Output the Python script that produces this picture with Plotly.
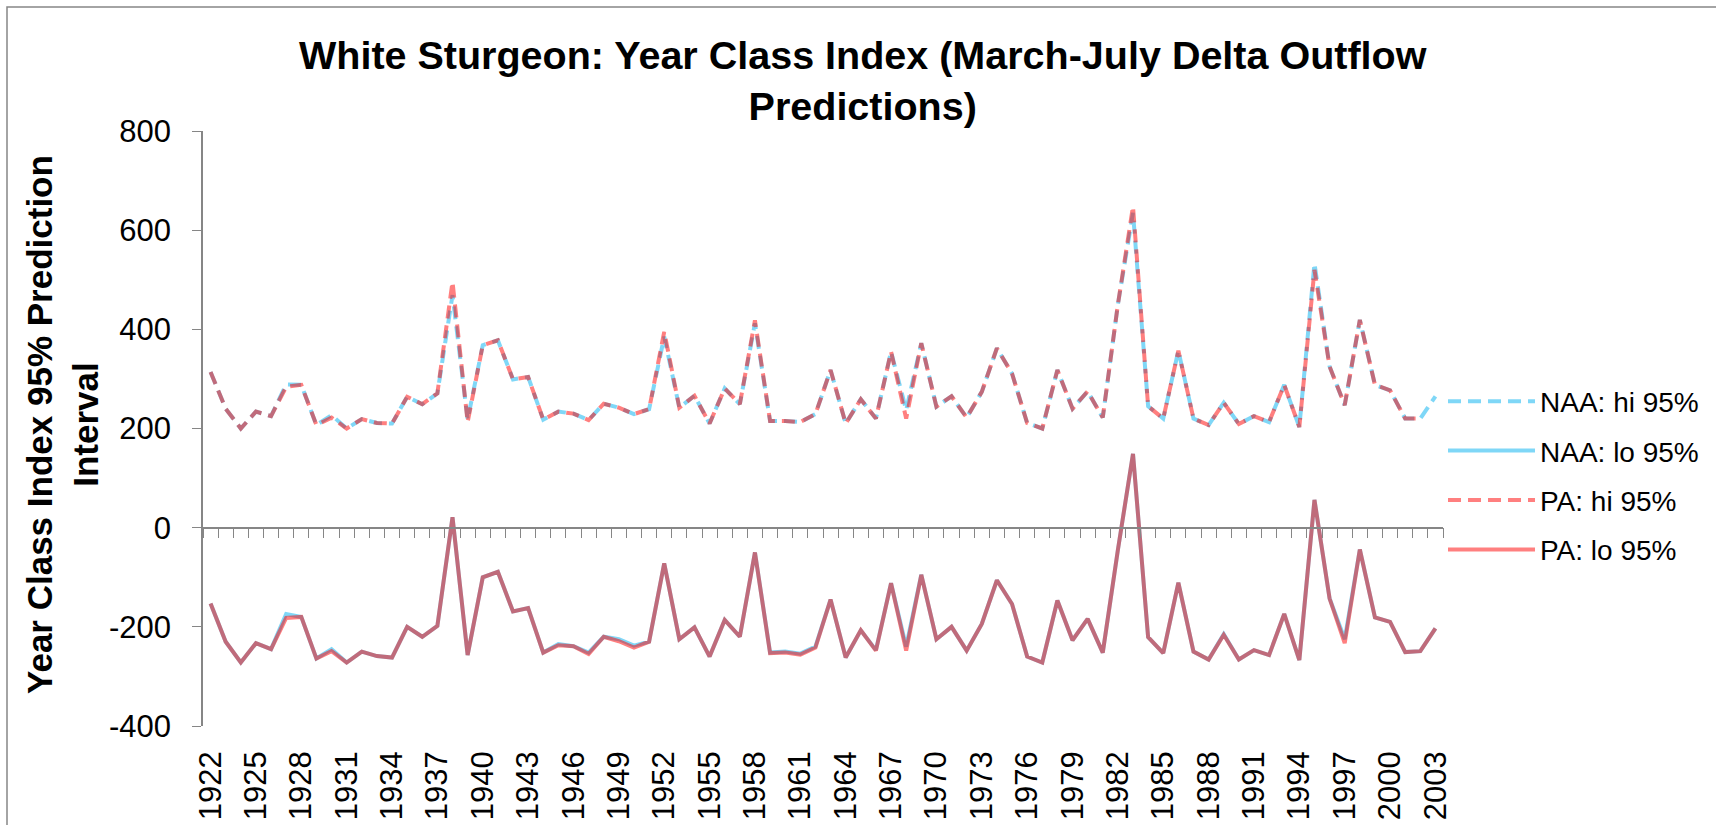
import plotly.graph_objects as go

years = list(range(1922, 2004))

naa_hi = [314, 240, 200, 234, 225, 289, 288, 207, 227, 200,
          219, 211, 210, 264, 249, 271, 469, 218, 368, 378,
          299, 304, 218, 234, 230, 217, 250, 242, 229, 239,
          385, 242, 266, 210, 281, 249, 412, 215, 215, 213,
          229, 318, 210, 259, 220, 355, 237, 372, 244, 265,
          222, 274, 362, 311, 211, 200, 318, 240, 275, 222,
          450, 635, 245, 220, 357, 220, 207, 252, 209, 225,
          213, 288, 203, 533, 325, 247, 419, 288, 277, 220,
          220, 265]

naa_lo = [-153, -230, -272, -233, -245, -174, -180, -264, -245, -272,
          -250, -259, -262, -200, -220, -198, 21, -257, -100, -89,
          -169, -162, -252, -235, -239, -252, -220, -225, -238, -230,
          -72, -225, -201, -260, -186, -220, -50, -252, -250, -254,
          -240, -145, -262, -207, -247, -112, -240, -95, -225, -200,
          -248, -194, -106, -154, -260, -272, -147, -227, -184, -252,
          -45, 149, -221, -253, -111, -250, -266, -215, -266, -247,
          -257, -174, -267, 56, -143, -225, -44, -181, -190, -251,
          -249, -203]

pa_hi = [314, 240, 200, 234, 225, 284, 288, 207, 222, 200,
         219, 211, 210, 264, 249, 271, 496, 213, 368, 378,
         299, 304, 218, 234, 230, 217, 250, 242, 229, 239,
         395, 242, 266, 210, 281, 249, 418, 215, 215, 213,
         229, 318, 210, 259, 220, 355, 220, 372, 244, 265,
         222, 274, 362, 311, 211, 200, 318, 240, 275, 222,
         450, 648, 245, 220, 357, 220, 207, 252, 209, 225,
         213, 288, 203, 520, 325, 247, 419, 288, 277, 220,
         220, None]

pa_lo = [-153, -230, -272, -233, -245, -182, -180, -264, -249, -272,
         -250, -259, -262, -200, -220, -198, 21, -257, -100, -89,
         -169, -162, -252, -237, -239, -255, -220, -229, -242, -230,
         -72, -225, -201, -260, -186, -220, -50, -253, -252, -256,
         -242, -145, -262, -207, -248, -112, -248, -95, -225, -200,
         -248, -194, -106, -154, -260, -272, -147, -227, -184, -252,
         -45, 149, -221, -253, -111, -250, -266, -216, -266, -247,
         -257, -174, -267, 56, -143, -233, -44, -181, -190, -251,
         -249, -203]

series_names = ["NAA: hi 95%", "NAA: lo 95%", "PA: hi 95%", "PA: lo 95%"]
title_text = "White Sturgeon: Year Class Index (March-July Delta Outflow<br>Predictions)"
y_title = "Year Class Index 95% Prediction<br>Interval"

tick_years = years[::3]
tick_text = [str(y) for y in tick_years]
y_ticks = [-400, -200, 0, 200, 400, 600, 800]
y_tick_text = ["-400", "-200", "0", "200", "400", "600", "800"]
boundaries = [years[0] - 0.5 + k for k in range(len(years) + 1)]

FONT = "Arial, Liberation Sans, sans-serif"
BLUE = "rgba(0,176,240,0.5)"
RED = "rgba(255,0,0,0.5)"
AXC = "#868686"

W, H = 1716, 825
L, R, T, B = 203, 273, 131, 99
PW, PH = W - L - R, H - T - B

fig = go.Figure()
styles = [(naa_hi, BLUE, "13px,7px", "x"), (naa_lo, BLUE, "solid", "x2"),
          (pa_hi, RED, "13px,7px", "x"), (pa_lo, RED, "solid", "x2")]
for name, (vals, col, dash, xa) in zip(series_names, styles):
    fig.add_trace(go.Scatter(
        x=years, y=vals, name=name, mode="lines", xaxis=xa, yaxis="y",
        line=dict(color=col, width=4, dash=dash),
        connectgaps=False, legendgroup=name,
    ))

xr = [years[0] - 0.5, years[-1] + 0.5]


def px_x(p):
    return (p - L) / PW


def px_y(p):
    return (H - B - p) / PH


fig.update_layout(
    template="none",
    width=W, height=H,
    margin=dict(l=L, r=R, t=T, b=B, pad=0, autoexpand=False),
    paper_bgcolor="white", plot_bgcolor="white",
    font=dict(family=FONT, color="black"),
    showlegend=True,
    legend=dict(x=px_x(1443), xanchor="left", y=px_y(475.5), yanchor="middle",
                font=dict(size=28, family=FONT, color="black"),
                itemwidth=87, tracegroupgap=10, traceorder="grouped",
                bgcolor="rgba(0,0,0,0)", borderwidth=0),
    xaxis=dict(range=xr, tickmode="array", tickvals=tick_years, ticktext=tick_text,
               tickangle=-90, showline=False, showgrid=False, zeroline=False,
               ticks="", ticklabelstandoff=18, automargin=False,
               tickfont=dict(size=31, family=FONT, color="black")),
    xaxis2=dict(range=xr, overlaying="x", anchor="free", position=400 / 1200,
                side="bottom", showline=True, linecolor=AXC, linewidth=1.5,
                ticks="outside", tickmode="array", tickvals=boundaries,
                ticklen=10, tickwidth=1.3, tickcolor=AXC, showticklabels=False,
                showgrid=False, zeroline=False, automargin=False),
    yaxis=dict(range=[-400, 800], tickmode="array", tickvals=y_ticks,
               ticktext=y_tick_text, showline=True, linecolor=AXC,
               linewidth=1.5, ticks="outside", ticklen=9, tickwidth=1.3, tickcolor=AXC,
               showgrid=False, zeroline=False, ticklabelstandoff=15, automargin=False,
               tickfont=dict(size=31, family=FONT, color="black")),
    annotations=[
        dict(text=title_text, xref="paper", yref="paper",
             x=px_x(863), y=px_y(80), xanchor="center", yanchor="middle",
             showarrow=False,
             font=dict(size=39.5, family=FONT, color="black", weight="bold")),
        dict(text=y_title, textangle=-90, xref="paper", yref="paper",
             x=px_x(62), y=px_y(425), xanchor="center", yanchor="middle",
             showarrow=False,
             font=dict(size=35, family=FONT, color="black", weight="bold")),
    ],
    shapes=[dict(type="rect", xref="paper", yref="paper",
                 x0=px_x(7), x1=px_x(W + 20), y0=px_y(H + 20), y1=px_y(7),
                 line=dict(color=AXC, width=1.5), fillcolor="rgba(0,0,0,0)",
                 layer="below")],
)

fig.write_html("out.html", config={"displayModeBar": False},
               post_script="document.body.style.margin='0px';")
